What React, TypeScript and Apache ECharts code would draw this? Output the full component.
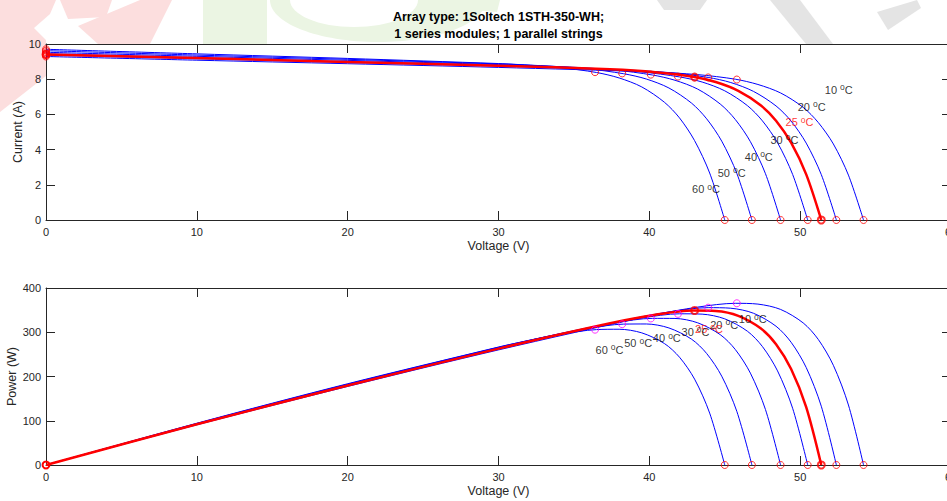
import React, { useEffect, useRef } from 'react';
import * as echarts from 'echarts';

// ---------- data ----------
const temps = [10, 20, 25, 30, 40, 50, 60];

const v10 = [0, 10, 20, 30, 40.2, 43.2, 45.7, 47.2, 48.7, 50.2, 51.2, 52.2, 53.2, 54.2];
const i10 = [9.29, 9.08, 8.88, 8.67, 8.41, 8.26, 8.0, 7.7, 7.22, 6.4, 5.54, 4.32, 2.55, 0];
const p10 = [0, 90.8, 177.5, 260.1, 338.2, 356.8, 365.4, 363.6, 351.6, 321.1, 283.8, 225.3, 135.6, 0];

const v20 = [0, 10, 20, 30, 38.4, 41.4, 43.9, 45.4, 46.9, 48.4, 49.4, 50.4, 51.4, 52.4];
const i20 = [9.37, 9.16, 8.95, 8.75, 8.52, 8.37, 8.1, 7.81, 7.31, 6.48, 5.62, 4.37, 2.58, 0];
const p20 = [0, 91.6, 179.1, 262.4, 327.3, 346.4, 355.6, 354.3, 343.0, 313.6, 277.4, 220.4, 132.8, 0];

const v25 = [0, 10, 20, 30, 37.4, 40.4, 42.9, 44.4, 45.9, 47.4, 48.4, 49.4, 50.4, 51.4];
const i25 = [9.41, 9.2, 8.98, 8.77, 8.56, 8.4, 8.14, 7.84, 7.34, 6.51, 5.64, 4.39, 2.59, 0];
const p25 = [0, 92.0, 179.6, 263.0, 320.3, 339.5, 349.0, 348.0, 337.1, 308.4, 272.9, 216.9, 130.7, 0];

const v30 = [0, 10, 20, 30, 36.5, 39.5, 42.0, 43.5, 45.0, 46.5, 47.5, 48.5, 49.5, 50.5];
const i30 = [9.45, 9.22, 8.99, 8.76, 8.57, 8.41, 8.13, 7.84, 7.34, 6.5, 5.63, 4.39, 2.59, 0];
const p30 = [0, 92.2, 179.9, 262.8, 312.8, 332.1, 341.7, 340.9, 330.3, 302.4, 267.6, 212.7, 128.2, 0];

const v40 = [0, 10, 20, 30, 34.7, 37.7, 40.2, 41.7, 43.2, 44.7, 45.7, 46.7, 47.7, 48.7];
const i40 = [9.53, 9.3, 9.07, 8.83, 8.69, 8.52, 8.24, 7.94, 7.44, 6.59, 5.71, 4.45, 2.63, 0];
const p40 = [0, 93.0, 181.4, 265.0, 301.4, 321.2, 331.4, 331.2, 321.4, 294.6, 261.0, 207.6, 125.3, 0];

const v50 = [0, 10, 20, 30, 32.8, 35.8, 38.3, 39.8, 41.3, 42.8, 43.8, 44.8, 45.8, 46.8];
const i50 = [9.62, 9.37, 9.13, 8.87, 8.77, 8.6, 8.31, 8.01, 7.5, 6.64, 5.75, 4.48, 2.65, 0];
const p50 = [0, 93.7, 182.6, 266.0, 287.5, 307.7, 318.4, 318.7, 309.7, 284.3, 252.0, 200.7, 121.2, 0];

const v60 = [0, 10, 20, 30, 31, 34, 36.5, 38, 39.5, 41, 42, 43, 44, 45];
const i60 = [9.7, 9.44, 9.18, 8.89, 8.85, 8.67, 8.38, 8.07, 7.56, 6.69, 5.8, 4.51, 2.67, 0];
const p60 = [0, 94.4, 183.6, 266.6, 274.2, 294.8, 306.0, 306.8, 298.6, 274.5, 243.6, 194.1, 117.3, 0];

// maximum power points
const mppV = [45.8, 43.9, 43.0, 41.9, 40.1, 38.2, 36.4];
const mppI = [7.98, 8.1, 8.12, 8.15, 8.26, 8.33, 8.4];
const mppP = [365.5, 355.6, 349.2, 341.5, 331.2, 318.2, 305.8];

// temperature label anchors
const ivLabelV = [51.6, 49.8, 49.0, 48.0, 46.3, 44.5, 42.8];
const ivLabelI = [7.39, 6.44, 5.55, 4.55, 3.6, 2.69, 1.76];
const pvLabelV = [45.9, 44.0, 43.0, 42.1, 40.2, 38.3, 36.4];
const pvLabelP = [329.3, 316.4, 307.3, 300.6, 286.3, 275.0, 259.9];

const titleLines = ['Array type: 1Soltech 1STH-350-WH;', '1 series modules; 1 parallel strings'];
const xTicks = [0, 60, 10];
const iTicks = [0, 10, 2];
const pTicks = [0, 400, 100];

const vAll = [v10, v20, v25, v30, v40, v50, v60];
const iAll = [i10, i20, i25, i30, i40, i50, i60];
const pAll = [p10, p20, p25, p30, p40, p50, p60];

// ---------- styling ----------
const FONT = '"Liberation Sans", Arial, Helvetica, sans-serif';
const AX = '#262626';
const BLUE = '#0000ff';
const RED = '#ff0000';
const MAG = '#ff00ff';
const PINK = '#fcdede';
const GREEN = '#ebf5e3';
const GREY = '#e4e4e4';

function watermark() {
  const poly = (points: number[][], fill: string) => ({
    type: 'polygon',
    z: -10,
    silent: true,
    shape: { points },
    style: { fill },
  });
  return [
    poly([[0, 0], [56, 0], [50, 14], [34, 28], [46, 40], [46, 76], [0, 112]], PINK),
    poly([[60, 0], [112, 0], [106, 17], [68, 19]], PINK),
    poly([[78, 26], [140, 0], [172, 0], [150, 44], [98, 44]], PINK),
    { type: 'ellipse', z: -10, silent: true, shape: { cx: 378, cy: 0, rx: 108, ry: 42 }, style: { fill: GREEN } },
    { type: 'ellipse', z: -9, silent: true, shape: { cx: 354, cy: 0, rx: 64, ry: 27 }, style: { fill: '#ffffff' } },
    poly([[203, 0], [267, 0], [267, 44], [203, 44]], GREEN),
    poly([[470, 0], [500, 0], [497, 12], [470, 10]], GREEN),
    poly([[657, 0], [707, 0], [700, 10], [664, 10]], GREY),
    poly([[770, 0], [800, 0], [833, 44], [806, 44]], GREY),
    poly([[877, 12], [917, 0], [921, 8], [888, 30]], GREY),
  ];
}

function buildOption() {
  const xBase = (grid: number, pos: 'top' | 'bottom', named: boolean) => ({
    type: 'value',
    gridIndex: grid,
    position: pos,
    min: xTicks[0],
    max: xTicks[1],
    interval: xTicks[2],
    name: named ? 'Voltage (V)' : '',
    nameLocation: 'middle',
    nameGap: 19,
    nameMoveOverlap: false,
    nameTextStyle: { fontFamily: FONT, fontSize: 12.5, color: AX },
    axisLine: { show: true, onZero: false, lineStyle: { color: AX, width: 1 } },
    axisTick: { show: true, inside: true, length: 9, lineStyle: { color: AX, width: 1 } },
    axisLabel: { show: named, fontFamily: FONT, fontSize: 11, color: AX, margin: 6 },
    splitLine: { show: false },
  });
  const yBase = (grid: number, pos: 'left' | 'right', ticks: number[], name: string, gap: number) => ({
    type: 'value',
    gridIndex: grid,
    position: pos,
    min: ticks[0],
    max: ticks[1],
    interval: ticks[2],
    name,
    nameLocation: 'middle',
    nameGap: gap,
    nameMoveOverlap: false,
    nameTextStyle: { fontFamily: FONT, fontSize: 12.5, color: AX },
    axisLine: { show: true, onZero: false, lineStyle: { color: AX, width: 1 } },
    axisTick: { show: true, inside: true, length: 9, lineStyle: { color: AX, width: 1 } },
    axisLabel: { show: pos === 'left', fontFamily: FONT, fontSize: 11, color: AX, margin: 5 },
    splitLine: { show: false },
  });

  const series: any[] = [];
  const order = [0, 1, 3, 4, 5, 6, 2]; // red (25 °C) drawn last
  order.forEach((k) => {
    const is25 = temps[k] === 25;
    const common = {
      type: 'line',
      showSymbol: false,
      smooth: 0.3,
      silent: true,
      lineStyle: { color: is25 ? RED : BLUE, width: is25 ? 2.5 : 1 },
      z: is25 ? 4 : 3,
    };
    series.push({ ...common, name: `IV ${temps[k]}`, xAxisIndex: 0, yAxisIndex: 0, data: vAll[k].map((v, j) => [v, iAll[k][j]]) });
    series.push({ ...common, name: `PV ${temps[k]}`, xAxisIndex: 2, yAxisIndex: 2, data: vAll[k].map((v, j) => [v, pAll[k][j]]) });
  });

  const marker = (name: string, xi: number, yi: number, data: number[][], color: string, bw: number) => ({
    type: 'scatter',
    name,
    xAxisIndex: xi,
    yAxisIndex: yi,
    symbol: 'circle',
    symbolSize: 7,
    clip: false,
    silent: true,
    z: 6,
    itemStyle: { color: 'rgba(0,0,0,0)', borderColor: color, borderWidth: bw },
    data,
  });

  const others = temps.map((t, k) => k).filter((k) => temps[k] !== 25);
  const k25 = temps.indexOf(25);
  const last = (a: number[]) => a[a.length - 1];

  series.push(
    marker('IV pts', 0, 0,
      others.flatMap((k) => [[0, iAll[k][0]], [mppV[k], mppI[k]], [last(vAll[k]), 0]]), RED, 1)
  );
  series.push(
    marker('IV pts 25', 0, 0, [[0, iAll[k25][0]], [mppV[k25], mppI[k25]], [last(vAll[k25]), 0]], RED, 2)
  );
  series.push(marker('PV ends', 2, 2, others.flatMap((k) => [[0, pAll[k][0]], [last(vAll[k]), 0]]), RED, 1));
  series.push(marker('PV mpp', 2, 2, others.map((k) => [mppV[k], mppP[k]]), MAG, 1));
  series.push(
    marker('PV pts 25', 2, 2, [[0, pAll[k25][0]], [mppV[k25], mppP[k25]], [last(vAll[k25]), 0]], RED, 2)
  );

  const rich = {
    n: { fontFamily: FONT, fontSize: 11, color: '#000', lineHeight: 14 },
    s: { fontFamily: FONT, fontSize: 8.5, color: '#000', lineHeight: 6, verticalAlign: 'top' },
    rn: { fontFamily: FONT, fontSize: 11, color: RED, lineHeight: 14 },
    rs: { fontFamily: FONT, fontSize: 8.5, color: RED, lineHeight: 6, verticalAlign: 'top' },
  };
  const labelSeries = (name: string, xi: number, yi: number, xs: number[], ys: number[]) => ({
    type: 'scatter',
    name,
    xAxisIndex: xi,
    yAxisIndex: yi,
    symbolSize: 1,
    clip: false,
    silent: true,
    z: 7,
    itemStyle: { color: 'rgba(0,0,0,0)' },
    label: {
      show: true,
      position: 'right',
      distance: 0,
      formatter: (p: any) => {
        const t = p.value[2];
        return t === 25 ? `{rn|${t} }{rs|o}{rn|C}` : `{n|${t} }{s|o}{n|C}`;
      },
      rich,
    },
    data: temps.map((t, k) => [xs[k], ys[k], t]),
  });
  series.push(labelSeries('IV labels', 0, 0, ivLabelV, ivLabelI));
  series.push(labelSeries('PV labels', 2, 2, pvLabelV, pvLabelP));

  return {
    animation: false,
    backgroundColor: '#ffffff',
    graphic: [
      ...watermark(),
      {
        type: 'text',
        x: 498.5,
        y: 17,
        z: 10,
        style: { text: titleLines[0], fill: '#000', fontFamily: FONT, fontSize: 12.5, fontWeight: 'bold', align: 'center', verticalAlign: 'middle' },
      },
      {
        type: 'text',
        x: 498.5,
        y: 33.5,
        z: 10,
        style: { text: titleLines[1], fill: '#000', fontFamily: FONT, fontSize: 12.5, fontWeight: 'bold', align: 'center', verticalAlign: 'middle' },
      },
    ],
    grid: [
      { show: true, backgroundColor: '#ffffff', borderWidth: 0, left: 46, top: 44, width: 905, height: 176, containLabel: false, outerBoundsMode: 'none' },
      { show: true, backgroundColor: '#ffffff', borderWidth: 0, left: 46, top: 288, width: 905, height: 177, containLabel: false, outerBoundsMode: 'none' },
    ],
    xAxis: [xBase(0, 'bottom', true), xBase(0, 'top', false), xBase(1, 'bottom', true), xBase(1, 'top', false)],
    yAxis: [
      yBase(0, 'left', iTicks, 'Current (A)', 22),
      yBase(0, 'right', iTicks, '', 0),
      yBase(1, 'left', pTicks, 'Power (W)', 28),
      yBase(1, 'right', pTicks, '', 0),
    ],
    series,
  };
}

export default function App() {
  const ref = useRef<HTMLDivElement>(null);
  useEffect(() => {
    if (!ref.current) return;
    const chart = echarts.init(ref.current, null, { renderer: 'svg' });
    chart.setOption(buildOption() as any);
    return () => chart.dispose();
  }, []);
  return (
    <div style={{ position: 'absolute', left: 0, top: 0, width: 947, height: 501, overflow: 'hidden', background: '#fff' }}>
      <div ref={ref} style={{ width: 952, height: 501 }} />
    </div>
  );
}
